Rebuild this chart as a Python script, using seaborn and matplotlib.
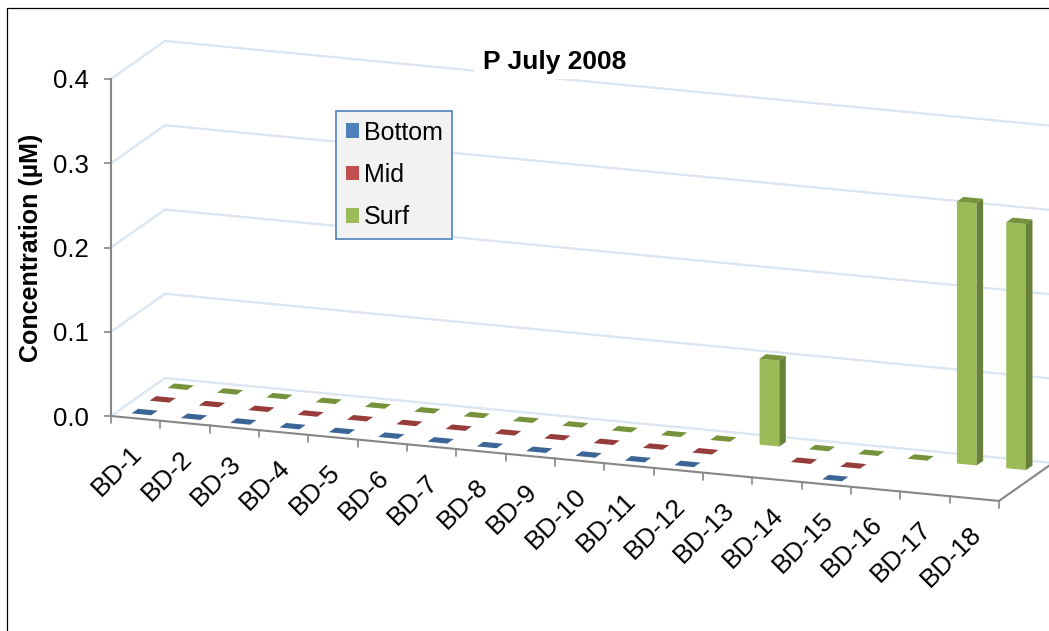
import numpy as np
import pandas as pd
import seaborn as sns
import matplotlib
matplotlib.use('Agg')
import matplotlib.pyplot as plt
from matplotlib.lines import Line2D
from matplotlib.patches import Patch, Polygon, Rectangle
from matplotlib.transforms import Affine2D

sites = ['BD-1', 'BD-2', 'BD-3', 'BD-4', 'BD-5', 'BD-6', 'BD-7', 'BD-8', 'BD-9',
         'BD-10', 'BD-11', 'BD-12', 'BD-13', 'BD-14', 'BD-15', 'BD-16', 'BD-17', 'BD-18']
bottom = [0, 0, 0, 0, 0, 0, 0, 0, 0, 0, 0, 0, np.nan, np.nan, 0, np.nan, np.nan, np.nan]
mid = [0, 0, 0, 0, 0, 0, 0, 0, 0, 0, 0, 0, np.nan, 0, 0, np.nan, np.nan, np.nan]
surf = [0, 0, 0, 0, 0, 0, 0, 0, 0, 0, 0, 0, 0.102, 0, 0, 0, 0.311, 0.292]
series = ['Bottom', 'Mid', 'Surf']
yticks = [0.0, 0.1, 0.2, 0.3, 0.4]

front_colors = ['#4F81BD', '#C0504D', '#9BBB59']
top_colors = ['#3B6597', '#963C3A', '#76933C']
side_colors = ['#2F5078', '#78302E', '#67803A']
depth_center = [1 / 6, 1 / 2, 5 / 6]

# 3d look of the excel chart: floor leans with x, depth moves up and right
SHEAR = 0.0056    # value units per category
DEPTH_X = 1.095   # categories per full depth
DEPTH_Y = 0.0451  # value units per full depth
THICK = 0.12      # bar thickness as part of the depth


def plane(d):
    return Affine2D.from_values(1, -SHEAR, 0, 1, d * DEPTH_X, -SHEAR * 0.5 + d * DEPTH_Y)


sns.set_theme(style='white')
plt.rcParams['font.family'] = ['Liberation Sans', 'DejaVu Sans']
plt.rcParams['text.color'] = 'black'

W, H = 1049, 631
fig = plt.figure(figsize=(W / 100, H / 100), dpi=100, facecolor='white')
ax = fig.add_axes([111 / W, 1 - 416 / H, 888 / W, 337 / H])
ax.patch.set_visible(False)

df = pd.DataFrame({
    'site': sites * 3,
    'depth': np.repeat(series, len(sites)),
    'conc': bottom + mid + surf,
})
sns.barplot(df, x='site', y='conc', hue='depth', order=sites, hue_order=series,
            palette=front_colors, saturation=1, dodge=False, width=0.4, legend=False,
            ax=ax, zorder=3)
ax.set_xlim(-0.5, 17.5)
ax.set_ylim(0, 0.4)

# walls and floor gridlines
grid_color = '#DCE6F2'
x0, x1 = -0.5, 17.5
for v in yticks:
    p = plane(0).transform([[x0, v]])[0]
    q = plane(1).transform([[x0, v], [x1, v]])
    ax.plot([p[0], q[0][0], q[1][0]], [p[1], q[0][1], q[1][1]], color=grid_color,
            lw=1.7, clip_on=False, zorder=1)

# bars, the seaborn rectangle is the front face
for s, cont in enumerate(ax.containers):
    d0 = depth_center[s] - THICK / 2
    d1 = depth_center[s] + THICK / 2
    for patch in cont.patches:
        left, right = patch.get_x(), patch.get_x() + patch.get_width()
        v = patch.get_height()
        if np.isnan(v):
            continue
        patch.set_transform(plane(d0) + ax.transData)
        patch.set_clip_on(False)
        patch.set_linewidth(0)
        front = plane(d0).transform([[left, v], [right, v]])
        back = plane(d1).transform([[left, v], [right, v]])
        ax.add_patch(Polygon([front[0], front[1], back[1], back[0]], closed=True,
                             fc=top_colors[s], ec='none', clip_on=False, zorder=3))
        if v > 0:
            foot = plane(d0).transform([[right, 0]])[0]
            foot2 = plane(d1).transform([[right, 0]])[0]
            ax.add_patch(Polygon([front[1], foot, foot2, back[1]], closed=True,
                                 fc=side_colors[s], ec='none', clip_on=False, zorder=3))

# front and right floor edges, category ticks and labels
axis_color = '#868686'
edge = plane(0).transform([[x0, 0], [x1, 0]])
corner = plane(1).transform([[x1, 0]])[0]
ax.plot([edge[0][0], edge[1][0], corner[0]], [edge[0][1], edge[1][1], corner[1]],
        color=axis_color, lw=1.5, clip_on=False, zorder=4)
for i in range(len(sites) + 1):
    t = plane(0).transform([[x0 + i, 0]])[0]
    ax.plot([t[0], t[0]], [t[1], t[1] - 0.0085], color=axis_color, lw=1.2,
            clip_on=False, zorder=4)
for i, name in enumerate(sites):
    t = plane(0).transform([[i - 0.11, 0]])[0]
    ax.text(t[0], t[1] - 0.028, name, rotation=45, ha='right', va='top',
            rotation_mode='anchor', fontsize=19, color='black', clip_on=False)

# y axis
ax.set_xticks([])
ax.set_xlabel('')
ax.set_yticks(yticks)
ax.set_yticklabels(['%.1f' % v for v in yticks], fontsize=18.5, color='black')
ax.tick_params(axis='y', length=5, width=1.2, color=axis_color, pad=11, left=True)
for name in ['top', 'right', 'bottom']:
    ax.spines[name].set_visible(False)
ax.spines['left'].set_color(axis_color)
ax.spines['left'].set_linewidth(1.5)
ax.set_ylabel('Concentration (µM)', fontsize=18, fontweight='bold', color='black')
ax.yaxis.set_label_coords((43 - 111) / 888, (416 - 248) / 337)

# white title box cuts the top gridline
fig.add_artist(Rectangle((474 / W, 1 - 78.5 / H), 162 / W, 36.5 / H, fc='white', ec='none',
                         transform=fig.transFigure, zorder=5))
fig.text(555 / W, 1 - 62.5 / H, 'P July 2008', ha='center', va='center', fontsize=19,
         fontweight='bold', color='black', zorder=6)

handles = [Patch(fc=c, ec='none', label=n) for c, n in zip(front_colors, series)]
leg = fig.legend(handles=handles, loc='upper left', bbox_to_anchor=(336 / W, 1 - 111 / H),
                 borderaxespad=0, fontsize=18, frameon=True, fancybox=False,
                 facecolor='#F2F2F2', edgecolor='#4F81BD', framealpha=1,
                 handlelength=0.52, handleheight=0.52, handletextpad=0.2,
                 labelspacing=0.74, borderpad=0.38)
leg.get_frame().set_linewidth(1.2)
leg.set_zorder(6)

# chart area border, only left and top are inside the picture
fig.add_artist(Line2D([6.5 / W, 6.5 / W, 1], [0, 1 - 7.5 / H, 1 - 7.5 / H], color='black', lw=0.9))

fig.savefig('out.png', dpi=100)
